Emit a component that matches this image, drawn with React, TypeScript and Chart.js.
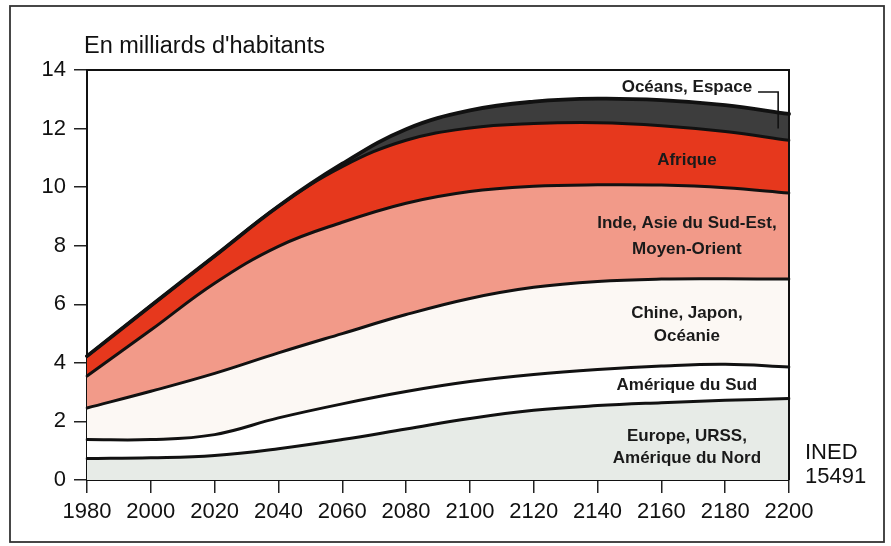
import { useEffect, useRef } from 'react';
import { Chart, registerables } from 'chart.js';

Chart.register(...registerables);

// ---- data (milliards d'habitants, épaisseur de chaque couche) ----
const years = ['1980', '2000', '2020', '2040', '2060', '2080', '2100', '2120', '2140', '2160', '2180', '2200'];
const yTicks = [0, 2, 4, 6, 8, 10, 12, 14];

const europe = [0.73, 0.76, 0.84, 1.07, 1.38, 1.74, 2.10, 2.38, 2.54, 2.64, 2.72, 2.78];
const ameriqueSud = [0.65, 0.62, 0.71, 1.05, 1.22, 1.28, 1.26, 1.22, 1.23, 1.25, 1.23, 1.08];
const chine = [1.08, 1.65, 2.09, 2.22, 2.40, 2.63, 2.84, 2.98, 3.01, 2.97, 2.92, 3.00];
const inde = [1.09, 2.09, 3.08, 3.64, 3.80, 3.80, 3.65, 3.45, 3.30, 3.21, 3.11, 2.94];
const afrique = [0.68, 0.83, 0.93, 1.37, 1.90, 2.15, 2.17, 2.14, 2.12, 2.03, 1.92, 1.80];
const oceans = [0, 0, 0, 0, 0.10, 0.38, 0.60, 0.75, 0.82, 0.87, 0.90, 0.90];

const titleText = "En milliards d'habitants";
const sourceLines = ['INED', '15491'];

// annotation texts placed in data coordinates (year, value)
const regionLabels = [
  { text: 'Océans, Espace', year: 2168, value: 13.42 },
  { text: 'Afrique', year: 2168, value: 10.93 },
  { text: 'Inde, Asie du Sud-Est,', year: 2168, value: 8.78 },
  { text: 'Moyen-Orient', year: 2168, value: 7.89 },
  { text: 'Chine, Japon,', year: 2168, value: 5.7 },
  { text: 'Océanie', year: 2168, value: 4.92 },
  { text: 'Amérique du Sud', year: 2168, value: 3.22 },
  { text: 'Europe, URSS,', year: 2168, value: 1.49 },
  { text: 'Amérique du Nord', year: 2168, value: 0.75 },
];
const leader = [
  [2190.3, 13.25],
  [2196.6, 13.25],
  [2196.6, 12.0],
];

const FONT = '"Liberation Sans", Arial, Helvetica, sans-serif';

const yearToIndex = (y: number) => (y - 1980) / 20;

const decorPlugin = {
  id: 'decor',
  afterDraw(chart: any) {
    const { ctx, chartArea, scales } = chart;
    const xs = scales.x;
    const ys = scales.y;
    ctx.save();
    // plot box (top & right edges)
    ctx.strokeStyle = '#111';
    ctx.lineWidth = 2;
    ctx.beginPath();
    ctx.moveTo(chartArea.left, chartArea.top);
    ctx.lineTo(chartArea.right, chartArea.top);
    ctx.lineTo(chartArea.right, chartArea.bottom);
    ctx.stroke();
    // outer frame
    ctx.strokeStyle = '#333';
    ctx.lineWidth = 1.8;
    ctx.strokeRect(10, 6, 874, 536);
    // title
    ctx.fillStyle = '#111';
    ctx.font = `23.5px ${FONT}`;
    ctx.textAlign = 'left';
    ctx.textBaseline = 'middle';
    ctx.fillText(titleText, chartArea.left - 3, chartArea.top - 23);
    // region labels
    ctx.font = `bold 17px ${FONT}`;
    ctx.textAlign = 'center';
    ctx.fillStyle = '#1a1a1a';
    regionLabels.forEach((l) => {
      ctx.fillText(l.text, xs.getPixelForValue(yearToIndex(l.year)), ys.getPixelForValue(l.value));
    });
    // leader line
    ctx.strokeStyle = '#111';
    ctx.lineWidth = 1.6;
    ctx.beginPath();
    leader.forEach(([yr, v], i) => {
      const px = xs.getPixelForValue(yearToIndex(yr));
      const py = ys.getPixelForValue(v);
      if (i === 0) ctx.moveTo(px, py);
      else ctx.lineTo(px, py);
    });
    ctx.stroke();
    // source
    ctx.font = `22px ${FONT}`;
    ctx.textAlign = 'left';
    ctx.fillStyle = '#111';
    ctx.fillText(sourceLines[0], chartArea.right + 16, ys.getPixelForValue(0.92));
    ctx.fillText(sourceLines[1], chartArea.right + 16, ys.getPixelForValue(0.11));
    ctx.restore();
  },
};

export default function App() {
  const ref = useRef<HTMLCanvasElement>(null);
  useEffect(() => {
    const mk = (label: string, data: number[], bg: string, fill: any, bw: number) => ({
      label,
      data,
      backgroundColor: bg,
      borderColor: '#111',
      borderWidth: bw,
      fill,
      pointRadius: 0,
      tension: 0.4,
      borderJoinStyle: 'round' as const,
      borderCapStyle: 'round' as const,
    });
    const chart = new Chart(ref.current!, {
      type: 'line',
      data: {
        labels: years,
        datasets: [
          mk('Europe, URSS, Amérique du Nord', europe, '#e7ebe7', 'origin', 3),
          mk('Amérique du Sud', ameriqueSud, '#ffffff', '-1', 3),
          mk('Chine, Japon, Océanie', chine, '#fcf8f4', '-1', 3),
          mk('Inde, Asie du Sud-Est, Moyen-Orient', inde, '#f29a89', '-1', 3),
          mk('Afrique', afrique, '#e6381d', '-1', 3),
          mk('Océans, Espace', oceans, '#3d3d3d', '-1', 3.8),
        ] as any,
      },
      options: {
        animation: false,
        responsive: true,
        maintainAspectRatio: false,
        layout: { padding: { left: 0, top: 70, right: 102, bottom: 0 } },
        plugins: {
          legend: { display: false },
          tooltip: { enabled: false },
          filler: { drawTime: 'beforeDatasetsDraw' } as any,
        },
        scales: {
          x: {
            type: 'category',
            offset: false,
            grid: { display: true, drawOnChartArea: false, drawTicks: true, tickLength: 13, color: '#222', lineWidth: 1.5 },
            border: { display: true, color: '#111', width: 2 },
            ticks: { color: '#111', font: { family: FONT, size: 22 }, padding: 6, maxRotation: 0, autoSkip: false },
            afterFit: (s: any) => {
              s.height = 66;
            },
          },
          y: {
            type: 'linear',
            stacked: true,
            min: 0,
            max: 14,
            afterBuildTicks: (s: any) => {
              s.ticks = yTicks.map((v) => ({ value: v }));
            },
            grid: { display: true, drawOnChartArea: false, drawTicks: true, tickLength: 13, color: '#222', lineWidth: 1.5 },
            border: { display: true, color: '#111', width: 2 },
            ticks: { color: '#111', font: { family: FONT, size: 22 }, padding: 8 },
            afterFit: (s: any) => {
              s.width = 87;
            },
          },
        },
      },
      plugins: [decorPlugin],
    });
    return () => chart.destroy();
  }, []);
  return (
    <div style={{ position: 'absolute', left: 0, top: 0, width: 891, height: 546, background: '#fff' }}>
      <canvas ref={ref} />
    </div>
  );
}
